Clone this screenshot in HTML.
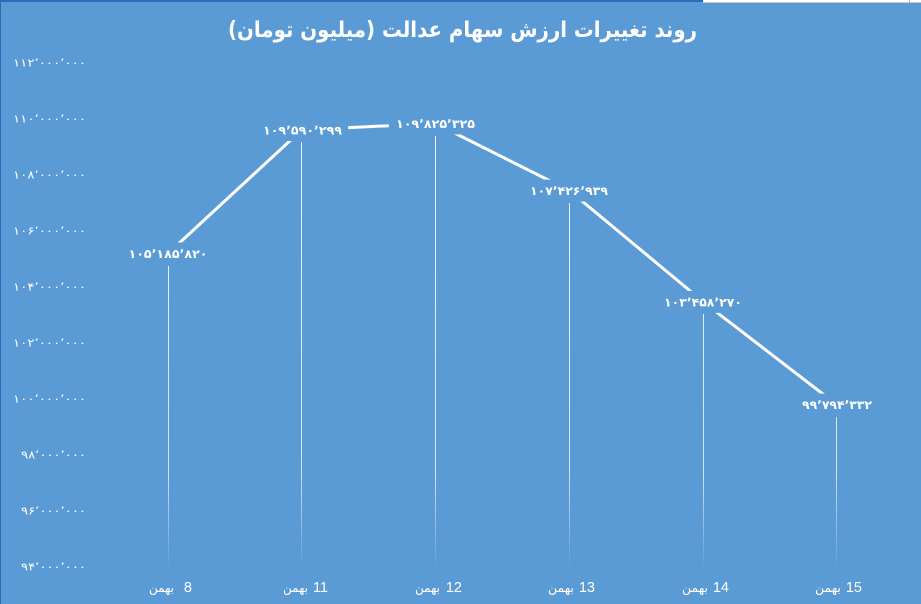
<!DOCTYPE html>
<html><head><meta charset="utf-8">
<style>
html,body{margin:0;padding:0;background:#5b9bd5;}
svg{display:block;}
.ax{font-family:"DejaVu Sans","Liberation Sans",sans-serif;font-size:11px;fill:#fff;}
.dl{font-family:"DejaVu Sans","Liberation Sans",sans-serif;font-size:12px;font-weight:bold;fill:#fff;}
.xn{font-family:"Liberation Sans",sans-serif;font-size:14.5px;fill:#fff;}
.xw{font-family:"DejaVu Sans","Liberation Sans",sans-serif;font-size:12.5px;fill:#fff;}
.tt{font-family:"DejaVu Sans","Liberation Sans",sans-serif;font-size:22px;font-weight:bold;fill:#fff;}
</style></head>
<body>
<svg width="921" height="604" viewBox="0 0 921 604" xmlns="http://www.w3.org/2000/svg">
<defs>
<linearGradient id="g" gradientUnits="userSpaceOnUse" x1="0" y1="130" x2="0" y2="566">
<stop offset="0" stop-color="#fff" stop-opacity="0.9"/>
<stop offset="0.78" stop-color="#fff" stop-opacity="0.75"/>
<stop offset="1" stop-color="#fff" stop-opacity="0.02"/>
</linearGradient>
</defs>
<rect x="0" y="0" width="921" height="604" fill="#5b9bd5"/>
<rect x="0" y="0" width="703" height="2" fill="#2a6ebb"/>
<rect x="703" y="0" width="218" height="2" fill="#ffffff"/>
<rect x="703" y="2" width="218" height="1" fill="#c8c8c8"/>
<rect x="909" y="0" width="1" height="3" fill="#b0b0b0"/>
<rect x="0" y="0" width="1" height="604" fill="#2a6ebb"/>

<text class="tt" x="462.5" y="37" text-anchor="middle" direction="rtl" textLength="469" lengthAdjust="spacingAndGlyphs">روند تغییرات ارزش سهام عدالت (میلیون تومان)</text>

<g class="ax" text-anchor="end">
<text x="86" y="66.5" textLength="73" lengthAdjust="spacingAndGlyphs">۱۱۲٬۰۰۰٬۰۰۰</text>
<text x="86" y="122.5" textLength="73" lengthAdjust="spacingAndGlyphs">۱۱۰٬۰۰۰٬۰۰۰</text>
<text x="86" y="178.5" textLength="73" lengthAdjust="spacingAndGlyphs">۱۰۸٬۰۰۰٬۰۰۰</text>
<text x="86" y="234.5" textLength="73" lengthAdjust="spacingAndGlyphs">۱۰۶٬۰۰۰٬۰۰۰</text>
<text x="86" y="290.5" textLength="73" lengthAdjust="spacingAndGlyphs">۱۰۴٬۰۰۰٬۰۰۰</text>
<text x="86" y="346.5" textLength="73" lengthAdjust="spacingAndGlyphs">۱۰۲٬۰۰۰٬۰۰۰</text>
<text x="86" y="402.5" textLength="73" lengthAdjust="spacingAndGlyphs">۱۰۰٬۰۰۰٬۰۰۰</text>
<text x="86" y="458.5" textLength="65" lengthAdjust="spacingAndGlyphs">۹۸٬۰۰۰٬۰۰۰</text>
<text x="86" y="514.5" textLength="65" lengthAdjust="spacingAndGlyphs">۹۶٬۰۰۰٬۰۰۰</text>
<text x="86" y="570.5" textLength="65" lengthAdjust="spacingAndGlyphs">۹۴٬۰۰۰٬۰۰۰</text>
</g>

<!-- drop lines -->
<g stroke="url(#g)" stroke-width="1">
<line x1="168.5" y1="266" x2="168.5" y2="566"/>
<line x1="301.5" y1="142" x2="301.5" y2="566"/>
<line x1="435.5" y1="136" x2="435.5" y2="566"/>
<line x1="569.5" y1="203" x2="569.5" y2="566"/>
<line x1="703.5" y1="314" x2="703.5" y2="566"/>
<line x1="836.5" y1="417" x2="836.5" y2="566"/>
</g>

<!-- series line -->
<polyline points="168,253.5 301.6,130 435.4,123.4 569.5,190.6 703.3,301.9 836.6,404.6" fill="none" stroke="#fff" stroke-width="3" stroke-linejoin="round"/>

<!-- label boxes -->
<g fill="#5b9bd5">
<rect x="121.5" y="242.5" width="93" height="22"/>
<rect x="255.1" y="119" width="93" height="22"/>
<rect x="388.9" y="112.4" width="93" height="22"/>
<rect x="523" y="179.6" width="93" height="22"/>
<rect x="656.8" y="290.9" width="93" height="22"/>
<rect x="790.1" y="393.6" width="93" height="22"/>
</g>

<g class="dl" text-anchor="middle">
<text x="168" y="258" textLength="79" lengthAdjust="spacingAndGlyphs">۱۰۵٬۱۸۵٬۸۲۰</text>
<text x="302.5" y="134.5" textLength="79" lengthAdjust="spacingAndGlyphs">۱۰۹٬۵۹۰٬۲۹۹</text>
<text x="435.5" y="128" textLength="79" lengthAdjust="spacingAndGlyphs">۱۰۹٬۸۲۵٬۳۲۵</text>
<text x="569" y="195" textLength="78" lengthAdjust="spacingAndGlyphs">۱۰۷٬۴۲۶٬۹۳۹</text>
<text x="703" y="306.5" textLength="78" lengthAdjust="spacingAndGlyphs">۱۰۳٬۴۵۸٬۲۷۰</text>
<text x="837" y="409" textLength="70" lengthAdjust="spacingAndGlyphs">۹۹٬۷۹۴٬۳۳۲</text>
</g>

<!-- x axis labels -->
<g class="xn" text-anchor="end">
<text x="192" y="592">8</text>
<text x="328" y="592">11</text>
<text x="462" y="592">12</text>
<text x="595" y="592">13</text>
<text x="729" y="592">14</text>
<text x="862" y="592">15</text>
</g>
<g class="xw">
<text x="149" y="592" textLength="25" lengthAdjust="spacingAndGlyphs">بهمن</text>
<text x="283" y="592" textLength="25" lengthAdjust="spacingAndGlyphs">بهمن</text>
<text x="415" y="592" textLength="25" lengthAdjust="spacingAndGlyphs">بهمن</text>
<text x="548" y="592" textLength="26" lengthAdjust="spacingAndGlyphs">بهمن</text>
<text x="682" y="592" textLength="26" lengthAdjust="spacingAndGlyphs">بهمن</text>
<text x="815" y="592" textLength="26" lengthAdjust="spacingAndGlyphs">بهمن</text>
</g>
</svg>
</body></html>
